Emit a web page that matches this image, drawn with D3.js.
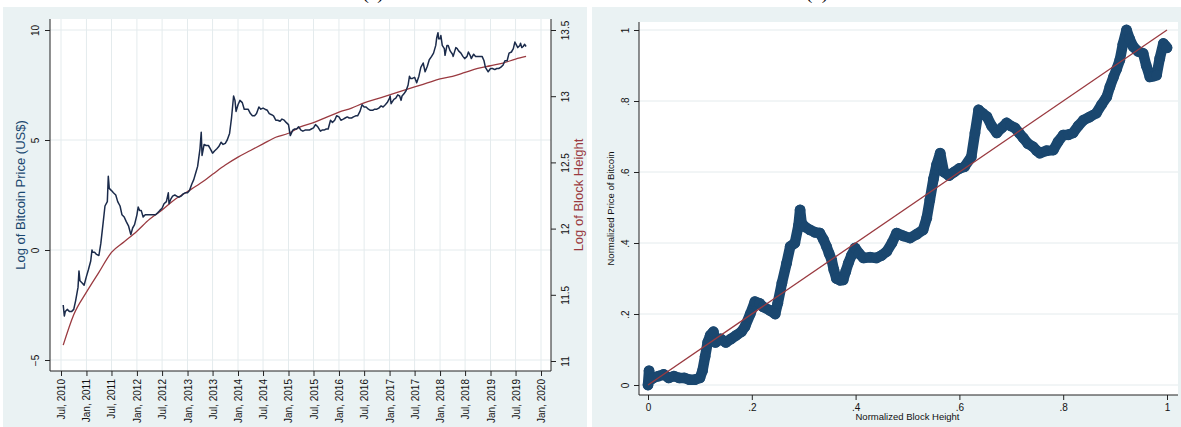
<!DOCTYPE html>
<html>
<head>
<meta charset="utf-8">
<script src="https://cdn.jsdelivr.net/npm/d3@7"></script>
<style>
body { margin: 0; background: #fff; }
svg { display: block; font-family: "Liberation Sans", Arial, sans-serif; }
</style>
</head>
<body>
<svg id="chart" width="1181" height="427"></svg>
<script>
// ---- data ----
// left panel: log bitcoin price (US$) by date
const logPrice = [
  ["2010-07-17", -2.5], ["2010-07-25", -3.0], ["2010-08-01", -2.8], ["2010-08-15", -2.7],
  ["2010-09-01", -2.8], ["2010-09-15", -2.8], ["2010-10-01", -2.7], ["2010-10-15", -2.3],
  ["2010-11-01", -1.7], ["2010-11-08", -0.95], ["2010-11-15", -1.4], ["2010-12-01", -1.5],
  ["2010-12-15", -1.6], ["2011-01-01", -1.2], ["2011-01-15", -0.9], ["2011-02-01", -0.5],
  ["2011-02-10", 0.0], ["2011-02-15", -0.1], ["2011-03-01", -0.1], ["2011-03-15", -0.2],
  ["2011-04-01", -0.25], ["2011-04-15", 0.3], ["2011-05-01", 1.2], ["2011-05-15", 2.0],
  ["2011-06-01", 2.2], ["2011-06-08", 3.35], ["2011-06-15", 2.8], ["2011-07-01", 2.7],
  ["2011-07-15", 2.6], ["2011-08-01", 2.5], ["2011-08-15", 2.2], ["2011-09-01", 2.0],
  ["2011-09-15", 1.6], ["2011-10-01", 1.5], ["2011-10-15", 1.3], ["2011-11-01", 1.1],
  ["2011-11-18", 0.7], ["2011-12-01", 1.0], ["2011-12-15", 1.15], ["2012-01-01", 1.6],
  ["2012-01-10", 1.95], ["2012-01-20", 1.8], ["2012-02-01", 1.8], ["2012-02-15", 1.5],
  ["2012-03-01", 1.6], ["2012-03-15", 1.6], ["2012-04-01", 1.6], ["2012-04-15", 1.6],
  ["2012-05-01", 1.6], ["2012-05-15", 1.6], ["2012-06-01", 1.7], ["2012-06-15", 1.8],
  ["2012-07-01", 1.9], ["2012-07-15", 2.1], ["2012-08-01", 2.2], ["2012-08-15", 2.6],
  ["2012-08-20", 2.1], ["2012-09-01", 2.3], ["2012-09-15", 2.45], ["2012-10-01", 2.5],
  ["2012-10-15", 2.45], ["2012-11-01", 2.4], ["2012-11-15", 2.45], ["2012-12-01", 2.55],
  ["2012-12-15", 2.6], ["2013-01-01", 2.6], ["2013-01-15", 2.7], ["2013-02-01", 3.0],
  ["2013-02-15", 3.2], ["2013-03-01", 3.5], ["2013-03-15", 3.8], ["2013-04-01", 4.6],
  ["2013-04-10", 5.35], ["2013-04-16", 4.3], ["2013-05-01", 4.8], ["2013-05-15", 4.75],
  ["2013-06-01", 4.75], ["2013-06-15", 4.6], ["2013-07-01", 4.4], ["2013-07-15", 4.5],
  ["2013-08-01", 4.6], ["2013-08-15", 4.7], ["2013-09-01", 4.9], ["2013-09-15", 4.8],
  ["2013-10-01", 4.85], ["2013-10-15", 5.0], ["2013-11-01", 5.3], ["2013-11-15", 6.0],
  ["2013-11-30", 7.0], ["2013-12-10", 6.8], ["2013-12-18", 6.3], ["2014-01-01", 6.6],
  ["2014-01-15", 6.8], ["2014-02-01", 6.7], ["2014-02-15", 6.4], ["2014-03-01", 6.4],
  ["2014-03-15", 6.4], ["2014-04-01", 6.2], ["2014-04-15", 6.1], ["2014-05-01", 6.1],
  ["2014-05-15", 6.2], ["2014-06-01", 6.5], ["2014-06-15", 6.4], ["2014-07-01", 6.45],
  ["2014-07-15", 6.4], ["2014-08-01", 6.35], ["2014-08-15", 6.2], ["2014-09-01", 6.15],
  ["2014-09-15", 6.1], ["2014-10-01", 5.9], ["2014-10-15", 5.9], ["2014-11-01", 5.85],
  ["2014-11-15", 5.95], ["2014-12-01", 5.9], ["2014-12-15", 5.8], ["2015-01-01", 5.7],
  ["2015-01-14", 5.2], ["2015-02-01", 5.45], ["2015-02-15", 5.5], ["2015-03-01", 5.5],
  ["2015-03-15", 5.6], ["2015-04-01", 5.45], ["2015-04-15", 5.4], ["2015-05-01", 5.45],
  ["2015-05-15", 5.45], ["2015-06-01", 5.45], ["2015-06-15", 5.5], ["2015-07-01", 5.55],
  ["2015-07-15", 5.7], ["2015-08-01", 5.6], ["2015-08-20", 5.4], ["2015-09-01", 5.45],
  ["2015-09-15", 5.45], ["2015-10-01", 5.5], ["2015-10-15", 5.5], ["2015-11-01", 5.9],
  ["2015-11-15", 5.8], ["2015-12-01", 5.9], ["2015-12-15", 6.1], ["2016-01-01", 6.05],
  ["2016-01-15", 5.9], ["2016-02-01", 5.95], ["2016-02-15", 6.0], ["2016-03-01", 6.05],
  ["2016-03-15", 6.0], ["2016-04-01", 6.0], ["2016-04-15", 6.05], ["2016-05-01", 6.1],
  ["2016-05-15", 6.1], ["2016-06-01", 6.3], ["2016-06-16", 6.6], ["2016-07-01", 6.5],
  ["2016-07-15", 6.5], ["2016-08-01", 6.4], ["2016-08-15", 6.35], ["2016-09-01", 6.35],
  ["2016-09-15", 6.4], ["2016-10-01", 6.4], ["2016-10-15", 6.45], ["2016-11-01", 6.55],
  ["2016-11-15", 6.5], ["2016-12-01", 6.6], ["2016-12-15", 6.7], ["2017-01-01", 6.9],
  ["2017-01-05", 7.0], ["2017-01-12", 6.65], ["2017-02-01", 6.85], ["2017-02-15", 6.9],
  ["2017-03-01", 7.05], ["2017-03-15", 7.0], ["2017-03-25", 6.8], ["2017-04-01", 7.0],
  ["2017-04-15", 7.1], ["2017-05-01", 7.25], ["2017-05-15", 7.5], ["2017-05-25", 7.9],
  ["2017-06-01", 7.8], ["2017-06-15", 7.8], ["2017-07-01", 7.85], ["2017-07-16", 7.6],
  ["2017-08-01", 7.9], ["2017-08-15", 8.3], ["2017-09-01", 8.5], ["2017-09-15", 8.1],
  ["2017-10-01", 8.35], ["2017-10-15", 8.65], ["2017-11-01", 8.8], ["2017-11-15", 8.95],
  ["2017-12-01", 9.3], ["2017-12-08", 9.65], ["2017-12-17", 9.88], ["2017-12-22", 9.6],
  ["2018-01-01", 9.6], ["2018-01-07", 9.75], ["2018-01-17", 9.3], ["2018-02-01", 9.15],
  ["2018-02-06", 8.85], ["2018-02-20", 9.3], ["2018-03-01", 9.3], ["2018-03-15", 9.05],
  ["2018-04-01", 8.9], ["2018-04-06", 8.8], ["2018-04-25", 9.2], ["2018-05-05", 9.15],
  ["2018-05-15", 9.05], ["2018-06-01", 8.95], ["2018-06-15", 8.8], ["2018-06-28", 8.7],
  ["2018-07-15", 8.8], ["2018-07-25", 9.0], ["2018-08-10", 8.8], ["2018-08-15", 8.7],
  ["2018-09-01", 8.9], ["2018-09-15", 8.8], ["2018-10-01", 8.8], ["2018-10-15", 8.8],
  ["2018-11-01", 8.8], ["2018-11-15", 8.6], ["2018-11-25", 8.3], ["2018-12-15", 8.1],
  ["2019-01-01", 8.25], ["2019-01-15", 8.25], ["2019-02-01", 8.2], ["2019-02-15", 8.25],
  ["2019-03-01", 8.25], ["2019-03-15", 8.3], ["2019-04-01", 8.4], ["2019-04-15", 8.6],
  ["2019-05-01", 8.6], ["2019-05-15", 8.95], ["2019-06-01", 9.0], ["2019-06-15", 9.15],
  ["2019-06-26", 9.45], ["2019-07-05", 9.35], ["2019-07-17", 9.2], ["2019-08-01", 9.3],
  ["2019-08-06", 9.4], ["2019-08-15", 9.2], ["2019-08-25", 9.25], ["2019-09-05", 9.35],
  ["2019-09-15", 9.25]
];

// left panel: log of block height
const logBlock = [
  ["2010-07-17", 11.12], ["2010-10-01", 11.35], ["2011-01-01", 11.52], ["2011-04-01", 11.67],
  ["2011-07-01", 11.82], ["2011-10-01", 11.90], ["2012-01-01", 11.98], ["2012-04-01", 12.07],
  ["2012-07-01", 12.14], ["2012-10-01", 12.22], ["2013-01-01", 12.28], ["2013-04-01", 12.34],
  ["2013-07-01", 12.41], ["2013-10-01", 12.48], ["2014-01-01", 12.54], ["2014-04-01", 12.59],
  ["2014-07-01", 12.64], ["2014-10-01", 12.69], ["2015-01-01", 12.72], ["2015-04-01", 12.77],
  ["2015-07-01", 12.80], ["2015-10-01", 12.84], ["2016-01-01", 12.88], ["2016-04-01", 12.91],
  ["2016-07-01", 12.95], ["2016-10-01", 12.98], ["2017-01-01", 13.01], ["2017-04-01", 13.04],
  ["2017-07-01", 13.07], ["2017-10-01", 13.10], ["2018-01-01", 13.13], ["2018-04-01", 13.15],
  ["2018-07-01", 13.18], ["2018-10-01", 13.21], ["2019-01-01", 13.23], ["2019-04-01", 13.25],
  ["2019-07-01", 13.28], ["2019-09-15", 13.30]
];

const xTickDates = ["2010-07-01", "2011-01-01", "2011-07-01", "2012-01-01", "2012-07-01",
  "2013-01-01", "2013-07-01", "2014-01-01", "2014-07-01", "2015-01-01", "2015-07-01",
  "2016-01-01", "2016-07-01", "2017-01-01", "2017-07-01", "2018-01-01", "2018-07-01",
  "2019-01-01", "2019-07-01", "2020-01-01"];
const priceTicks = [-5, 0, 5, 10];
const blockTicks = [11, 11.5, 12, 12.5, 13, 13.5];

// right panel: normalized block height vs normalized price
const normPoints = [
  [0.0, 0.0], [0.002, 0.04], [0.005, 0.015], [0.01, 0.02], [0.02, 0.025], [0.03, 0.03],
  [0.04, 0.02], [0.05, 0.025], [0.06, 0.02], [0.07, 0.02], [0.08, 0.015], [0.09, 0.015],
  [0.1, 0.02], [0.105, 0.04], [0.11, 0.08], [0.115, 0.12], [0.12, 0.14], [0.126, 0.15],
  [0.13, 0.12], [0.14, 0.13], [0.15, 0.12], [0.16, 0.13], [0.17, 0.14], [0.18, 0.15],
  [0.187, 0.165], [0.197, 0.2], [0.206, 0.235], [0.215, 0.23], [0.222, 0.22], [0.235, 0.21],
  [0.245, 0.2], [0.25, 0.23], [0.258, 0.287], [0.267, 0.343], [0.274, 0.39], [0.283, 0.40],
  [0.29, 0.45], [0.293, 0.493], [0.296, 0.456], [0.303, 0.445], [0.312, 0.437], [0.322, 0.43],
  [0.331, 0.428], [0.338, 0.41], [0.344, 0.39], [0.349, 0.37], [0.354, 0.352], [0.358, 0.325],
  [0.363, 0.30], [0.37, 0.295], [0.376, 0.296], [0.381, 0.32], [0.386, 0.343], [0.392, 0.365],
  [0.399, 0.386], [0.407, 0.37], [0.415, 0.358], [0.428, 0.36], [0.44, 0.358], [0.45, 0.365],
  [0.46, 0.376], [0.47, 0.40], [0.479, 0.428], [0.492, 0.42], [0.505, 0.414], [0.518, 0.425],
  [0.53, 0.437], [0.537, 0.47], [0.543, 0.521], [0.55, 0.58], [0.556, 0.62], [0.563, 0.653],
  [0.57, 0.60], [0.58, 0.59], [0.59, 0.60], [0.60, 0.61], [0.61, 0.615], [0.623, 0.643],
  [0.63, 0.71], [0.637, 0.775], [0.645, 0.765], [0.653, 0.756], [0.662, 0.73], [0.672, 0.71],
  [0.682, 0.725], [0.691, 0.738], [0.699, 0.73], [0.707, 0.724], [0.715, 0.71], [0.723, 0.696],
  [0.732, 0.68], [0.742, 0.671], [0.749, 0.66], [0.755, 0.653], [0.768, 0.66], [0.781, 0.662],
  [0.79, 0.685], [0.80, 0.704], [0.81, 0.705], [0.819, 0.71], [0.829, 0.73], [0.839, 0.746],
  [0.851, 0.755], [0.864, 0.766], [0.874, 0.79], [0.884, 0.812], [0.89, 0.84], [0.897, 0.868],
  [0.903, 0.89], [0.909, 0.915], [0.915, 0.96], [0.922, 1.0], [0.928, 0.975], [0.935, 0.953],
  [0.944, 0.94], [0.954, 0.934], [0.96, 0.9], [0.967, 0.868], [0.974, 0.87], [0.98, 0.873],
  [0.986, 0.92], [0.993, 0.962], [0.997, 0.955], [1.0, 0.95]
];
const fitLine = [[0, 0], [1, 1]];
const normTicks = [0, 0.2, 0.4, 0.6, 0.8, 1];

// ---- styles ----
const BG = "#eaf2f3", GRID = "#e4ebed", AXIS = "#222";
const NAVY = "#1a476f", LINE_NAVY = "#1b2b4b", MAROON = "#9a3a40";

const svg = d3.select("#chart");
const parse = d3.timeParse("%Y-%m-%d");
const fmtNorm = d => d === 0 ? "0" : d === 1 ? "1" : d3.format(".1f")(d).replace(/^0/, "");

// panel backgrounds
svg.append("rect").attr("x", 3).attr("y", 7).attr("width", 584).attr("height", 420).attr("fill", BG);
svg.append("rect").attr("x", 592).attr("y", 7).attr("width", 589).attr("height", 420).attr("fill", BG);

// panel captions, cut off by the top edge as in the source figure
svg.append("text").attr("x", 373).attr("y", -1).attr("text-anchor", "middle")
  .attr("font-family", "Liberation Serif, serif").attr("font-size", 19).text("(a)");
svg.append("text").attr("x", 817).attr("y", -1).attr("text-anchor", "middle")
  .attr("font-family", "Liberation Serif, serif").attr("font-size", 19).text("(b)");

// rotate tick labels of a vertical axis in place
function rotateYLabels(axisG, dx) {
  axisG.selectAll("text")
    .attr("transform", `translate(${dx},0) rotate(-90)`)
    .attr("x", 0).attr("y", 0).attr("dy", "0.35em")
    .attr("text-anchor", "middle").attr("font-size", 10).attr("fill", "#111");
}

// ===== left panel =====
function drawLeft() {
  const box = {l: 50, r: 551, t: 19, b: 371};
  const g = svg.append("g");
  g.append("rect").attr("x", box.l).attr("y", box.t).attr("width", box.r - box.l)
    .attr("height", box.b - box.t).attr("fill", "#fff");

  const x = d3.scaleTime().domain([parse("2010-07-01"), parse("2020-01-01")]).range([61, 541]);
  const yP = d3.scaleLinear().domain([-5, 10]).range([360, 30]);
  const yB = d3.scaleLinear().domain([11, 13.5]).range([361, 30]);

  // grid
  g.selectAll(".vg").data(xTickDates).enter().append("line")
    .attr("x1", d => x(parse(d))).attr("x2", d => x(parse(d)))
    .attr("y1", box.t).attr("y2", box.b).attr("stroke", GRID).attr("stroke-width", 1);
  g.selectAll(".hg").data(priceTicks).enter().append("line")
    .attr("x1", box.l).attr("x2", box.r).attr("y1", d => yP(d)).attr("y2", d => yP(d))
    .attr("stroke", GRID).attr("stroke-width", 1);

  // series
  g.append("path").datum(logBlock)
    .attr("d", d3.line().x(d => x(parse(d[0]))).y(d => yB(d[1])).curve(d3.curveMonotoneX))
    .attr("fill", "none").attr("stroke", MAROON).attr("stroke-width", 1.3);
  g.append("path").datum(logPrice)
    .attr("d", d3.line().x(d => x(parse(d[0]))).y(d => yP(d[1])))
    .attr("fill", "none").attr("stroke", LINE_NAVY).attr("stroke-width", 1.5)
    .attr("stroke-linejoin", "round");

  // axes
  const ax = g.append("g").attr("transform", `translate(0,${box.b})`)
    .call(d3.axisBottom(x).tickValues(xTickDates.map(parse)).tickSize(5).tickSizeOuter(0)
      .tickFormat(d3.timeFormat("%b, %Y")));
  ax.select(".domain").remove();
  ax.selectAll("text").attr("transform", "rotate(-90)").attr("text-anchor", "end")
    .attr("x", -8).attr("y", 0).attr("dy", "0.35em").attr("font-size", 10).attr("fill", "#111");

  const al = g.append("g").attr("transform", `translate(${box.l},0)`)
    .call(d3.axisLeft(yP).tickValues(priceTicks).tickSize(5).tickSizeOuter(0).tickFormat(d3.format("d")));
  al.select(".domain").remove();
  rotateYLabels(al, -15);

  const ar = g.append("g").attr("transform", `translate(${box.r},0)`)
    .call(d3.axisRight(yB).tickValues(blockTicks).tickSize(5).tickSizeOuter(0).tickFormat(d3.format("")));
  ar.select(".domain").remove();
  rotateYLabels(ar, 14);

  g.selectAll(".tick line").attr("stroke", AXIS);
  g.append("line").attr("x1", box.l).attr("x2", box.l).attr("y1", box.t).attr("y2", box.b).attr("stroke", AXIS);
  g.append("line").attr("x1", box.r).attr("x2", box.r).attr("y1", box.t).attr("y2", box.b).attr("stroke", AXIS);
  g.append("line").attr("x1", box.l).attr("x2", box.r).attr("y1", box.b).attr("y2", box.b).attr("stroke", AXIS);

  // axis titles
  g.append("text").attr("transform", `translate(20,${(box.t + box.b) / 2}) rotate(-90)`)
    .attr("text-anchor", "middle").attr("dy", "0.35em").attr("font-size", 13).attr("fill", NAVY)
    .text("Log of Bitcoin Price (US$)");
  g.append("text").attr("transform", `translate(578,${(box.t + box.b) / 2}) rotate(-90)`)
    .attr("text-anchor", "middle").attr("dy", "0.35em").attr("font-size", 13).attr("fill", MAROON)
    .text("Log of Block Height");
}

// ===== right panel =====
function drawRight() {
  const box = {l: 639, r: 1178, t: 22, b: 395};
  const g = svg.append("g");
  g.append("rect").attr("x", box.l).attr("y", box.t).attr("width", box.r - box.l)
    .attr("height", box.b - box.t).attr("fill", "#fff");

  const x = d3.scaleLinear().domain([0, 1]).range([648, 1167]);
  const y = d3.scaleLinear().domain([0, 1]).range([385, 30]);

  g.selectAll(".hg").data(normTicks).enter().append("line")
    .attr("x1", box.l).attr("x2", box.r).attr("y1", d => y(d)).attr("y2", d => y(d))
    .attr("stroke", GRID).attr("stroke-width", 1);

  // dense markers: a thick round-joined trace plus the points themselves
  g.append("path").datum(normPoints)
    .attr("d", d3.line().x(d => x(d[0])).y(d => y(d[1])))
    .attr("fill", "none").attr("stroke", NAVY).attr("stroke-width", 10.5)
    .attr("stroke-linejoin", "round").attr("stroke-linecap", "round");
  g.selectAll("circle").data(normPoints).enter().append("circle")
    .attr("cx", d => x(d[0])).attr("cy", d => y(d[1])).attr("r", 5.4).attr("fill", NAVY);

  g.append("path").datum(fitLine)
    .attr("d", d3.line().x(d => x(d[0])).y(d => y(d[1])))
    .attr("fill", "none").attr("stroke", MAROON).attr("stroke-width", 1.3);

  const ax = g.append("g").attr("transform", `translate(0,${box.b})`)
    .call(d3.axisBottom(x).tickValues(normTicks).tickSize(5).tickSizeOuter(0).tickFormat(fmtNorm));
  ax.select(".domain").remove();
  ax.selectAll("text").attr("y", 9).attr("font-size", 10).attr("fill", "#111");

  const al = g.append("g").attr("transform", `translate(${box.l},0)`)
    .call(d3.axisLeft(y).tickValues(normTicks).tickSize(5).tickSizeOuter(0).tickFormat(fmtNorm));
  al.select(".domain").remove();
  rotateYLabels(al, -14);
  g.selectAll(".tick line").attr("stroke", AXIS);

  g.append("line").attr("x1", box.l).attr("x2", box.l).attr("y1", box.t).attr("y2", box.b).attr("stroke", AXIS);
  g.append("line").attr("x1", box.l).attr("x2", box.r).attr("y1", box.b).attr("y2", box.b).attr("stroke", AXIS);

  g.append("text").attr("x", (648 + 1167) / 2).attr("y", 420).attr("text-anchor", "middle")
    .attr("font-size", 9.5).attr("fill", "#111").text("Normalized Block Height");
  g.append("text").attr("transform", `translate(611,${(box.t + box.b) / 2}) rotate(-90)`)
    .attr("text-anchor", "middle").attr("dy", "0.35em").attr("font-size", 9.5).attr("fill", "#111")
    .text("Normalized Price of Bitcoin");
}

drawLeft();
drawRight();
</script>
</body>
</html>
